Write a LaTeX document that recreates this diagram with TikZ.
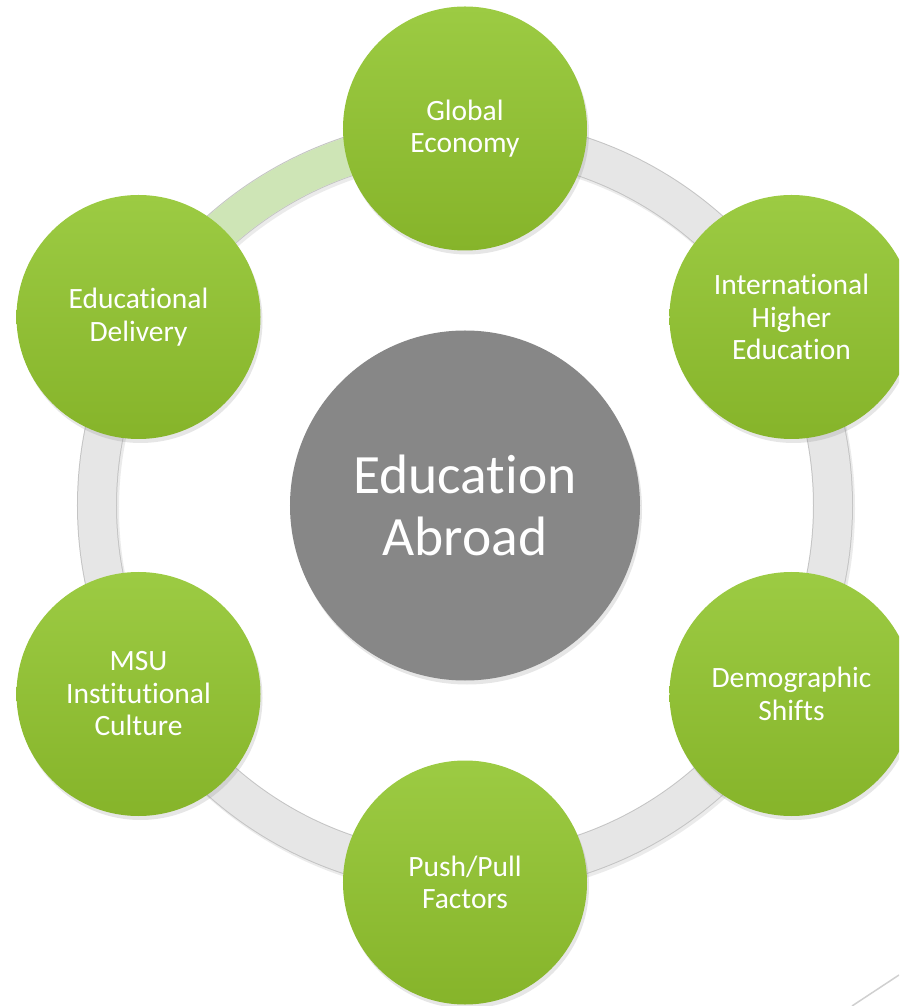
\documentclass[tikz,border=0pt]{standalone}
\usepackage{fontspec}
\setmainfont{Carlito}[Ligatures=NoCommon]
\usetikzlibrary{positioning,calc,shadows}
\definecolor{leafgreen}{HTML}{9CCB43}
\definecolor{leafdark}{HTML}{86B42A}
\definecolor{ringgray}{HTML}{E6E6E6}
\definecolor{ringedge}{HTML}{C4C4C4}
\definecolor{ringgreen}{HTML}{CEE5B6}
\definecolor{hubgray}{HTML}{878787}

\begin{document}
\begin{tikzpicture}[x=1pt,y=1pt,
         topic/.style = {circle, minimum size=244pt, inner sep=0pt,
         align=center, text=white, top color=leafgreen, bottom color=leafdark,
         font=\fontsize{29.5}{32.5}\selectfont,
         drop shadow={shadow xshift=2pt, shadow yshift=-4pt, opacity=0.2}},
         hub/.style = {circle, minimum size=350pt, inner sep=0pt,
         align=center, text=white, fill=hubgray,
         font=\fontsize{55.5}{62}\selectfont,
         drop shadow={shadow xshift=2pt, shadow yshift=-4pt, opacity=0.2}}
]
   \useasboundingbox (-465,-500.5) rectangle (434,505.5);
   \clip (-465,-500.5) rectangle (434,505.5);

   % ring
   \draw[line width=40pt, black, opacity=0.08] (2,-3) circle (368);
   \draw[line width=40pt, ringedge] (0,0) circle (368);
   \draw[line width=38pt, ringgray] (0,0) circle (368);
   \draw[line width=38pt, ringgreen] (150:368) arc (150:90:368);

   % centre
   \node[hub] (hub) at (0,0) {Education\\Abroad};

   % topics round the ring
   \node[topic] (econ)  at (90:377)  {Global\\Economy};
   \node[topic] (intl)  at (30:377)  {International\\Higher\\Education};
   \node[topic] (demo)  at (-30:377) {Demographic\\Shifts};
   \node[topic] (push)  at (-90:377) {Push/Pull\\Factors};
   \node[topic] (msu)   at (210:377) {MSU\\Institutional\\Culture};
   \node[topic] (deliv) at (150:377) {Educational\\Delivery};

   % slide corner
   \coordinate (c0) at (387,-500.5);
   \coordinate (c1) at (434,-469.5);
   \draw[line width=1.5pt, ringedge!80] (c0) -- (c1);
\end{tikzpicture}
\end{document}
